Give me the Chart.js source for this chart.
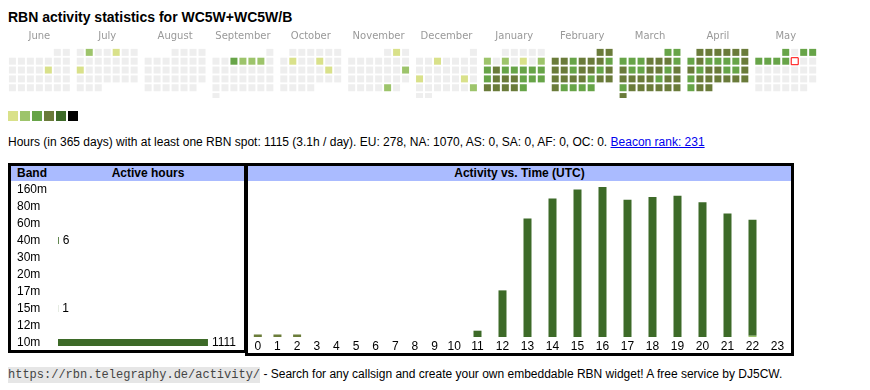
<!DOCTYPE html>
<html>
<head>
<meta charset="utf-8">
<script src="https://cdn.jsdelivr.net/npm/chart.js@4.4.1/dist/chart.umd.min.js"></script>
<style>
  body { margin: 0; background: #fff; color: #000; font-family: "Liberation Sans", Arial, sans-serif; font-size: 12px; }
  #page { position: relative; width: 870px; height: 390px; overflow: hidden; }
  .abs { position: absolute; }
  h1 { position: absolute; left: 8px; top: 8px; margin: 0; font-size: 14px; line-height: 18px; font-weight: bold; white-space: nowrap; }
  .swatch { position: absolute; top: 111px; width: 10px; height: 10px; }
  #summary { left: 8px; top: 135px; line-height: 14px; white-space: nowrap; }
  #summary a { color: #0000ee; }
  .box { position: absolute; box-sizing: border-box; border: 3px solid #000; }
  .head { position: absolute; height: 15px; background: #aabbff; font-weight: bold; line-height: 15px; white-space: nowrap; }
  #footer { left: 8px; top: 366px; line-height: 16px; white-space: nowrap; }
  #footer code { font-family: "Liberation Mono", monospace; font-size: 12px; background: #e6e6e6; color: #444; padding: 1px 0; }
  canvas { position: absolute; }
</style>
</head>
<body>
<div id="page">
  <h1>RBN activity statistics for WC5W+WC5W/B</h1>
  <!-- the scatter chart keeps a 5px margin for its point size, hence the offsets -->
  <canvas id="calendar" width="880" height="82" style="left:-5px;top:22px"></canvas>
  <div id="legend"></div>
  <div id="summary" class="abs">Hours (in 365 days) with at least one RBN spot: 1115 (3.1h / day). EU: 278, NA: 1070, AS: 0, SA: 0, AF: 0, OC: 0. <a href="#">Beacon rank: 231</a></div>

  <div class="box" style="left:8px;top:163px;width:239px;height:190px"></div>
  <div class="box" style="left:245px;top:163px;width:549px;height:193px"></div>
  <div class="head" style="left:11px;top:166px;width:233px"><span style="position:absolute;left:6px">Band</span><span style="position:absolute;left:47px;width:180px;text-align:center">Active hours</span></div>
  <div class="head" style="left:248px;top:166px;width:543px;text-align:center">Activity vs. Time (UTC)</div>
  <canvas id="bands" width="233" height="170" style="left:11px;top:181px"></canvas>
  <canvas id="hoursA" width="216" height="172" style="left:248px;top:182px"></canvas>
  <canvas id="hoursB" width="325" height="172" style="left:465px;top:182px"></canvas>

  <div id="footer" class="abs"><code>https://rbn.telegraphy.de/activity/</code> - Search for any callsign and create your own embeddable RBN widget! A free service by DJ5CW.</div>
</div>

<script>
// calendar: activity level per day (0 = none ... 6 = most), June 2024 .. May 2025
const monthNames = ["June", "July", "August", "September", "October", "November", "December", "January", "February", "March", "April", "May"];
const jun = [0,0,0,0,0,0,0,0,0,0,0,0,0,1,0,0,0,0,0,0,0,0,0,0,0,0,0,0,0,0];
const jul = [0,2,0,0,1,0,0,0,0,0,0,0,0,0,1,0,0,0,0,0,0,0,0,0,0,0,0,0,0,0,0];
const aug = [0,0,0,0,0,0,0,0,0,0,0,0,0,0,0,0,0,0,0,0,0,0,0,0,0,0,0,0,0,0,0];
const sep = [0,0,0,3,2,2,2,0,0,0,0,0,0,0,0,0,0,0,0,0,0,0,0,0,0,0,0,0,0,0];
const oct = [0,0,0,0,0,0,0,1,0,0,1,0,0,0,0,0,0,0,1,0,0,0,0,0,0,0,0,0,0,0,0];
const nov = [0,1,0,0,0,0,0,0,0,0,0,0,0,0,0,0,2,0,0,0,0,0,0,0,0,0,0,0,2,0];
const dec = [0,0,0,1,0,0,0,0,0,0,0,0,0,0,0,1,0,0,0,0,1,0,0,0,0,0,0,0,2,0,0];
const jan = [0,0,0,0,0,2,0,2,0,1,0,2,3,4,3,3,3,3,3,3,4,4,4,3,3,3,4,4,4,4,3];
const feb = [4,4,4,4,3,4,4,4,3,4,4,3,4,4,3,4,4,4,4,4,3,4,4,4,3,3,3,3];
const mar = [3,3,3,3,3,4,4,4,3,4,3,3,4,4,3,4,4,4,4,4,3,4,4,3,4,4,4,4,4,4,4];
const apr = [4,4,4,4,4,4,3,4,3,3,3,3,4,4,3,4,4,3,3,4,3,4,4,4,4,4,4,3,4,4];
const may = [3,0,3,3,3,3,3,3,0,0,0,0,0,0,0,0,0,0,0,0,0,0,0,0,0,0,0,0,0,0,0];
const todayMonth = 11, todayDay = 9;

// activity vs. time (UTC), active hours per band
const hourLabels = ["0","1","2","3","4","5","6","7","8","9","10","11","12","13","14","15","16","17","18","19","20","21","22","23"];
const hours40m = [2,2,2,0,0,0,0,0,0,0,0,0,0,0,0,0,0,0,0,0,0,0,0,0];
const hours15m = [0,0,0,0,0,0,0,0,0,0,0,0,0,0,0,0,0,0,0,0,0,0,1,0];
const hours10m = [0,0,0,0,0,0,0,0,0,0,0,5,37,94,110,117,119,109,111,112,107,98,92,0];

// active hours per band
const bandNames = ["160m","80m","60m","40m","30m","20m","17m","15m","12m","10m"];
const bandHours = [0,0,0,6,0,0,0,1,0,1111];

const levelColors = ["#eeeeee", "#d9e18a", "#9dc46b", "#67a448", "#6a7b3a", "#3d6a28", "#000000"];
const bandColors = { "40m": "#6b7d3a", "15m": "#9dc46b", "10m": "#3d6a28" };

Chart.defaults.font.family = '"Liberation Sans", Arial, sans-serif';
Chart.defaults.font.size = 12;
Chart.defaults.color = "#000";

// colour scale legend
const legend = document.getElementById("legend");
levelColors.slice(1).forEach((c, i) => {
  const d = document.createElement("div");
  d.className = "swatch";
  d.style.left = (8 + 12 * i) + "px";
  d.style.background = c;
  legend.appendChild(d);
});

// calendar grid: one block of 7 weekday columns per month
const monthStep = 68 / 9;
const monthLevels = [jun, jul, aug, sep, oct, nov, dec, jan, feb, mar, apr, may];
const cells = [], cellFill = [], cellBorder = [], cellBorderW = [];
monthLevels.forEach((levels, m) => {
  const first = (new Date(2024, 5 + m, 1).getDay() + 6) % 7;
  levels.forEach((lv, i) => {
    const isToday = m === todayMonth && i + 1 === todayDay;
    cells.push({ x: m * monthStep + (first + i) % 7, y: Math.floor((first + i) / 7) });
    cellFill.push(isToday ? "#ffffff" : levelColors[lv]);
    cellBorder.push(isToday ? "#ff0000" : levelColors[lv]);
    cellBorderW.push(isToday ? 1 : 0);
  });
});
const monthCenters = monthNames.map((n, m) => m * monthStep + 3);

new Chart(document.getElementById("calendar"), {
  type: "scatter",
  data: {
    datasets: [{
      data: cells,
      pointStyle: "rect",
      pointRadius: 7 / Math.SQRT2,
      backgroundColor: cellFill,
      borderColor: cellBorder,
      borderWidth: cellBorderW
    }]
  },
  options: {
    responsive: false,
    animation: false,
    events: [],
    plugins: { legend: { display: false }, tooltip: { enabled: false } },
    scales: {
      x: {
        type: "linear",
        position: "top",
        min: -11.5 / 9,
        max: -11.5 / 9 + 870 / 9,
        afterBuildTicks: (s) => { s.ticks = monthCenters.map((v) => ({ value: v })); },
        afterFit: (s) => { s.height = 23; },
        grid: { display: false, drawTicks: false },
        border: { display: false },
        ticks: {
          autoSkip: false,
          maxRotation: 0,
          padding: 3,
          color: "#999",
          font: { family: '"DejaVu Sans", Verdana, sans-serif', size: 10 },
          callback: (v, i) => monthNames[i]
        }
      },
      y: { type: "linear", reverse: true, display: false, min: -7.5 / 9, max: -7.5 / 9 + 54 / 9 }
    }
  }
});

// band table
const valueLabels = {
  id: "valueLabels",
  afterDatasetsDraw(chart) {
    const ctx = chart.ctx;
    const meta = chart.getDatasetMeta(0);
    ctx.save();
    ctx.font = '12px "Liberation Sans", Arial, sans-serif';
    ctx.fillStyle = "#000";
    ctx.textBaseline = "middle";
    meta.data.forEach((bar, i) => {
      if (bandHours[i] > 0) ctx.fillText(String(bandHours[i]), bar.x + 4, bar.y);
    });
    ctx.restore();
  }
};

new Chart(document.getElementById("bands"), {
  type: "bar",
  data: {
    labels: bandNames,
    datasets: [{ data: bandHours, backgroundColor: "#3d6a28", barThickness: 7, inflateAmount: 0 }]
  },
  plugins: [valueLabels],
  options: {
    indexAxis: "y",
    responsive: false,
    animation: false,
    events: [],
    layout: { padding: { left: 6 } },
    plugins: { legend: { display: false }, tooltip: { enabled: false } },
    scales: {
      x: { display: false, min: 0, max: 1378 },
      y: {
        afterFit: (s) => { s.width = 41; s.paddingTop = 0; s.paddingBottom = 0; },
        grid: { display: false, drawTicks: false },
        border: { display: false },
        ticks: { crossAlign: "far", padding: 0, color: "#000", autoSkip: false }
      }
    }
  }
});

// activity vs. time: early hours use narrower columns than the busy hours
function hourChart(id, from, to) {
  const bar = { barThickness: 8, inflateAmount: 0 };
  return new Chart(document.getElementById(id), {
    type: "bar",
    data: {
      labels: hourLabels.slice(from, to),
      datasets: [
        { label: "40m", data: hours40m.slice(from, to), backgroundColor: bandColors["40m"], ...bar },
        { label: "15m", data: hours15m.slice(from, to), backgroundColor: bandColors["15m"], ...bar },
        { label: "10m", data: hours10m.slice(from, to), backgroundColor: bandColors["10m"], ...bar }
      ]
    },
    options: {
      responsive: false,
      animation: false,
      events: [],
      plugins: { legend: { display: false }, tooltip: { enabled: false } },
      scales: {
        x: {
          stacked: true,
          afterFit: (s) => { s.height = 17; },
          grid: { display: false, drawTicks: false },
          border: { display: false },
          ticks: { padding: 2, color: "#000", autoSkip: false, maxRotation: 0 }
        },
        y: { stacked: true, display: false, min: 0, max: 123 }
      }
    }
  });
}
hourChart("hoursA", 0, 11);
hourChart("hoursB", 11, 24);
</script>
</body>
</html>
